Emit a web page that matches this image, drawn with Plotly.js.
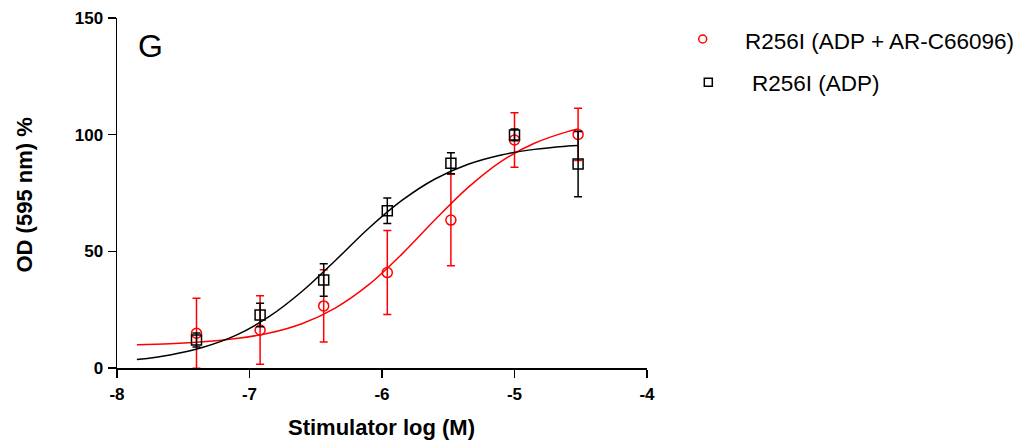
<!DOCTYPE html>
<html>
<head>
<meta charset="utf-8">
<script src="https://cdn.plot.ly/plotly-3.0.1.min.js"></script>
<style>
  html, body { margin: 0; padding: 0; background: #ffffff; }
  #chart { width: 1017px; height: 445px; }
</style>
</head>
<body>
<div id="chart"></div>
<script>
// ---- Data ----
const doseLog = [-7.4, -6.92, -6.44, -5.96, -5.48, -5.0, -4.52];

const adpMean = [12, 22.7, 37.7, 67.4, 87.7, 99.9, 87.4];
const adpErr  = [3, 5, 7, 5.5, 4.5, 2.5, 14];

const arcMean = [14.9, 16.3, 26.6, 40.9, 63.4, 97.7, 100.1];
const arcErr  = [15, 14.7, 15.5, 18, 19.6, 11.7, 11.2];

// fitted curves
const fitX   = [-7.85, -7.6, -7.35, -7.1, -6.85, -6.6, -6.35, -6.1, -5.85, -5.6, -5.35, -5.1, -4.85, -4.6, -4.52];
const adpFit = [3.6, 5.6, 8.9, 14.1, 22.1, 33.0, 46.2, 59.9, 71.8, 81.0, 87.3, 91.3, 93.7, 95.1, 95.4];
const arcFit = [10.0, 10.4, 11.2, 12.6, 15.0, 19.1, 25.8, 35.7, 48.8, 63.5, 77.4, 88.6, 96.3, 101.3, 102.4];

const xTicks = [-8, -7, -6, -5, -4];
const yTicks = [0, 50, 100, 150];

const seriesNames = ['R256I (ADP + AR-C66096)', 'R256I (ADP)'];
const panelLabel = 'G';
const xTitle = 'Stimulator log (M)';
const yTitle = 'OD (595 nm) %';

// ---- Styling ----
const RED = '#ff0000';
const BLACK = '#000000';
const FONT = 'Liberation Sans, Arial, Helvetica, sans-serif';

const traces = [
  {
    x: fitX, y: arcFit, type: 'scatter', mode: 'lines',
    line: { color: RED, width: 1.5, shape: 'spline', smoothing: 1 },
    hoverinfo: 'skip', showlegend: false
  },
  {
    x: doseLog, y: arcMean, type: 'scatter', mode: 'markers', name: seriesNames[0],
    marker: { symbol: 'circle-open', size: 10, color: RED, line: { color: RED, width: 1.5 } },
    error_y: { type: 'data', array: arcErr, visible: true, color: RED, thickness: 1.5, width: 4 },
    showlegend: false
  },
  {
    x: fitX, y: adpFit, type: 'scatter', mode: 'lines',
    line: { color: BLACK, width: 1.5, shape: 'spline', smoothing: 1 },
    hoverinfo: 'skip', showlegend: false
  },
  {
    x: doseLog, y: adpMean, type: 'scatter', mode: 'markers', name: seriesNames[1],
    marker: { symbol: 'square-open', size: 10, color: BLACK, line: { color: BLACK, width: 1.5 } },
    error_y: { type: 'data', array: adpErr, visible: true, color: BLACK, thickness: 1.5, width: 4 },
    showlegend: false
  }
];

const L = 117, R = 647, T = 18, B = 368;
const W = R - L, H = B - T;
const px = v => (v - L) / W;
const py = v => (B - v) / H;

const layout = {
  width: 1017, height: 445,
  margin: { l: L, r: 1017 - R, t: T, b: 445 - B, pad: 0 },
  paper_bgcolor: '#ffffff', plot_bgcolor: '#ffffff',
  showlegend: false,
  xaxis: {
    range: [-8, -4], tickmode: 'array', tickvals: xTicks, ticktext: xTicks.map(String),
    showline: true, linecolor: BLACK, linewidth: 1.5, mirror: false,
    ticks: 'outside', ticklen: 8, tickwidth: 1.5, tickcolor: BLACK,
    showgrid: false, zeroline: false, ticklabelstandoff: 2,
    tickfont: { family: FONT, size: 17, color: BLACK, weight: 'bold' },
    fixedrange: true
  },
  yaxis: {
    range: [0, 150], tickmode: 'array', tickvals: yTicks, ticktext: yTicks.map(String),
    showline: true, linecolor: BLACK, linewidth: 1.5, mirror: false,
    ticks: 'outside', ticklen: 8, tickwidth: 1.5, tickcolor: BLACK,
    showgrid: false, zeroline: false, ticklabelstandoff: 1,
    tickfont: { family: FONT, size: 17, color: BLACK, weight: 'bold' },
    fixedrange: true
  },
  annotations: [
    { text: xTitle, xref: 'paper', yref: 'paper', x: px(381), y: py(427), xanchor: 'center', yanchor: 'middle',
      showarrow: false, font: { family: FONT, size: 22, color: BLACK, weight: 'bold' } },
    { text: yTitle, xref: 'paper', yref: 'paper', x: px(23.5), y: py(195), xanchor: 'center', yanchor: 'middle',
      textangle: -90, showarrow: false, font: { family: FONT, size: 22, color: BLACK, weight: 'bold' } },
    { text: panelLabel, xref: 'paper', yref: 'paper', x: px(150.5), y: py(46.5), xanchor: 'center', yanchor: 'middle',
      showarrow: false, font: { family: FONT, size: 32, color: BLACK } },
    { text: seriesNames[0], xref: 'paper', yref: 'paper', x: px(742.7), y: py(41), xanchor: 'left', yanchor: 'middle',
      showarrow: false, font: { family: FONT, size: 22.5, color: BLACK } },
    { text: seriesNames[1], xref: 'paper', yref: 'paper', x: px(750), y: py(83), xanchor: 'left', yanchor: 'middle',
      showarrow: false, font: { family: FONT, size: 22.5, color: BLACK } }
  ],
  shapes: [
    { type: 'circle', xref: 'paper', yref: 'paper', xsizemode: 'pixel', ysizemode: 'pixel',
      xanchor: px(702.7), yanchor: py(39), x0: -4, x1: 4, y0: -4, y1: 4,
      line: { color: RED, width: 1.5 }, fillcolor: 'rgba(0,0,0,0)' },
    { type: 'rect', xref: 'paper', yref: 'paper', xsizemode: 'pixel', ysizemode: 'pixel',
      xanchor: px(708.3), yanchor: py(82.3), x0: -4, x1: 4, y0: -4, y1: 4,
      line: { color: BLACK, width: 1.5 }, fillcolor: 'rgba(0,0,0,0)' }
  ]
};

Plotly.newPlot('chart', traces, layout, { displayModeBar: false, staticPlot: true });
</script>
</body>
</html>
